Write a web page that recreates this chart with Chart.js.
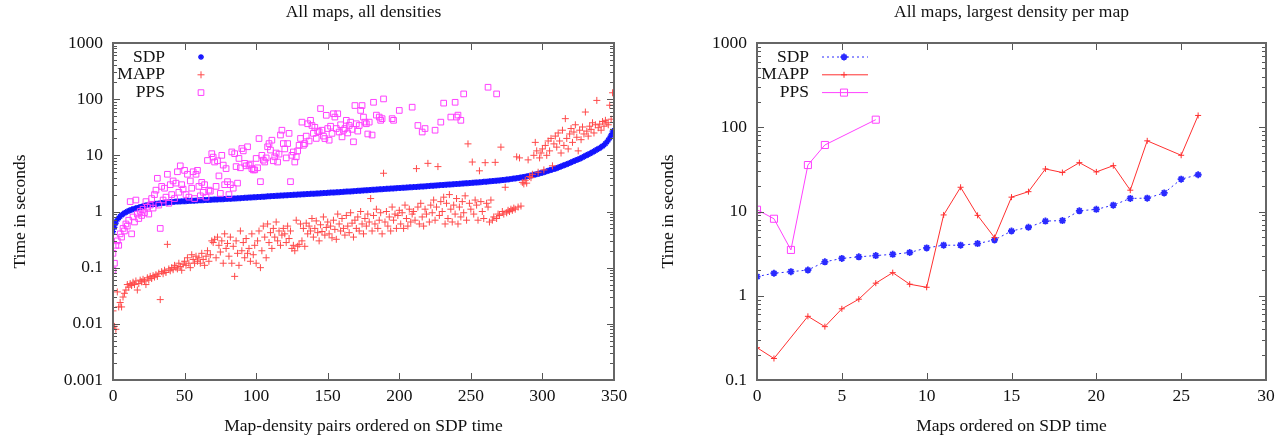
<!DOCTYPE html>
<html>
<head>
<meta charset="utf-8">
<script src="https://cdn.jsdelivr.net/npm/chart.js@4.4.1/dist/chart.umd.min.js"></script>
<style>
html, body { margin: 0; padding: 0; background: #fff; }
#wrap { position: relative; width: 1288px; height: 441px; }
#left { position: absolute; left: 0; top: 0; }
#right { position: absolute; left: 640px; top: 0; }
</style>
</head>
<body>
<div id="wrap">
  <canvas id="left" width="640" height="441"></canvas>
  <canvas id="right" width="648" height="441"></canvas>
</div>
<script>
// left panel: every map/density pair, index = position when sorted on SDP time
var sdpAll = [
  0.44,0.52,0.62,0.72,0.77,0.82,0.86,0.9,0.94,0.97,
  1.0,1.03,1.05,1.08,1.1,1.12,1.14,1.16,1.18,1.2,
  1.22,1.24,1.26,1.28,1.3,1.32,1.33,1.34,1.35,1.36,
  1.37,1.38,1.39,1.4,1.41,1.42,1.43,1.44,1.45,1.46,
  1.47,1.48,1.48,1.49,1.5,1.5,1.51,1.51,1.52,1.52,
  1.53,1.53,1.54,1.54,1.55,1.55,1.56,1.56,1.57,1.57,
  1.58,1.58,1.59,1.59,1.6,1.6,1.61,1.61,1.62,1.62,
  1.63,1.63,1.64,1.64,1.65,1.65,1.66,1.66,1.67,1.67,
  1.68,1.68,1.69,1.69,1.7,1.71,1.71,1.72,1.72,1.73,
  1.74,1.74,1.75,1.76,1.76,1.77,1.78,1.78,1.79,1.8,
  1.8,1.81,1.82,1.82,1.83,1.84,1.84,1.85,1.86,1.86,
  1.87,1.88,1.88,1.89,1.9,1.9,1.91,1.92,1.92,1.93,
  1.94,1.94,1.95,1.96,1.96,1.97,1.98,1.98,1.99,2.0,
  2.0,2.01,2.02,2.02,2.03,2.04,2.04,2.05,2.06,2.07,
  2.07,2.08,2.09,2.1,2.1,2.11,2.12,2.13,2.13,2.14,
  2.15,2.16,2.17,2.17,2.18,2.19,2.2,2.21,2.21,2.22,
  2.23,2.24,2.25,2.26,2.27,2.27,2.28,2.29,2.3,2.31,
  2.32,2.33,2.34,2.35,2.36,2.37,2.38,2.39,2.4,2.41,
  2.42,2.43,2.44,2.45,2.46,2.47,2.48,2.49,2.5,2.51,
  2.52,2.53,2.54,2.55,2.56,2.57,2.58,2.59,2.6,2.61,
  2.62,2.63,2.64,2.65,2.66,2.67,2.68,2.69,2.7,2.71,
  2.72,2.73,2.74,2.75,2.77,2.78,2.79,2.8,2.81,2.82,
  2.84,2.85,2.86,2.87,2.88,2.9,2.91,2.92,2.93,2.95,
  2.96,2.97,2.98,3.0,3.01,3.02,3.04,3.05,3.06,3.08,
  3.09,3.1,3.12,3.13,3.14,3.16,3.17,3.19,3.2,3.21,
  3.23,3.24,3.26,3.27,3.29,3.3,3.32,3.33,3.35,3.37,
  3.38,3.4,3.42,3.44,3.46,3.48,3.5,3.52,3.54,3.56,
  3.58,3.6,3.63,3.65,3.68,3.7,3.73,3.76,3.79,3.82,
  3.85,3.88,3.92,3.96,4.0,4.04,4.08,4.12,4.17,4.22,
  4.27,4.32,4.38,4.44,4.5,4.56,4.62,4.69,4.76,4.84,
  4.92,5.0,5.1,5.2,5.3,5.4,5.5,5.6,5.7,5.8,
  5.9,6.05,6.2,6.35,6.5,6.65,6.8,6.95,7.1,7.3,
  7.5,7.7,7.9,8.1,8.3,8.5,8.7,8.9,9.2,9.5,
  9.8,10.1,10.4,10.7,11,11.4,11.8,12.2,12.6,13,
  13.5,14,14.6,15.3,16.2,17.3,18.7,20.5,23,27
];

var mappAll = [
  0.017,0.009,0.008,0.037,0.02,0.024,0.02,0.03,0.035,0.04,
  0.05,0.045,0.052,0.048,0.055,0.05,0.058,0.04,0.052,0.06,
  0.056,0.062,0.058,0.05,0.066,0.06,0.07,0.064,0.072,0.068,
  0.075,0.07,0.08,0.027,0.085,0.078,0.09,0.082,0.26,0.095,
  0.088,0.1,0.092,0.11,0.1,0.095,0.12,0.105,0.09,0.115,
  0.13,0.11,0.15,0.12,0.1,0.17,0.14,0.12,0.16,0.13,
  0.15,0.12,0.18,0.14,0.11,0.16,0.2,0.13,0.17,0.3,
  0.28,0.32,0.15,0.35,0.25,0.19,0.3,0.12,0.4,0.22,
  0.27,0.16,0.35,0.12,0.24,0.07,0.3,0.18,0.11,0.45,
  0.2,0.28,0.15,0.33,0.18,0.22,0.13,0.4,0.17,0.25,
  0.12,0.3,0.45,0.1,0.2,0.55,0.35,0.15,0.6,0.28,
  0.42,0.22,0.5,0.35,0.65,0.3,0.45,0.25,0.38,0.5,
  0.4,0.28,0.55,0.33,0.45,0.22,0.25,0.2,0.7,0.24,
  0.26,0.6,0.3,0.5,0.24,0.62,0.4,0.55,0.45,0.75,
  0.35,0.5,0.68,0.42,0.3,0.58,0.44,0.8,0.38,0.52,
  0.65,0.4,0.55,0.34,0.7,0.48,0.32,0.9,0.6,0.45,
  0.75,0.5,0.38,0.85,0.55,0.42,0.95,0.62,0.35,0.7,
  0.5,0.8,0.45,1.0,0.6,0.4,0.75,0.55,0.9,0.65,
  1.7,0.45,0.85,0.6,1.1,0.5,0.7,0.95,0.4,4.8,
  0.65,1.0,0.55,0.8,0.45,1.2,0.7,0.9,0.5,0.85,
  1.05,0.6,0.95,0.5,1.3,0.75,0.55,1.1,0.65,0.9,
  1.0,0.7,5.8,1.2,0.6,1.4,0.8,0.55,1.1,0.9,
  7.2,0.65,1.3,0.95,1.6,0.7,1.2,6.3,0.85,1.5,
  1.0,1.8,0.6,1.4,0.75,2.0,1.1,0.65,1.3,0.9,
  1.7,0.6,1.2,0.8,1.5,0.95,1.9,0.7,16,1.4,
  1.1,7.6,0.9,1.6,1.3,0.7,5.3,1.5,1.0,0.75,
  7.4,1.4,1.2,0.65,1.6,0.7,0.8,7.5,0.75,0.9,
  0.85,14,1.0,0.9,2.7,0.95,1.05,1.0,1.1,1.05,
  1.15,1.1,9.4,1.2,9.0,1.25,3.3,3.1,3.6,3.2,
  8.3,4.2,4.0,4.6,10,17,12,5.0,9,11,
  13,5.5,15,10,18,12,20,6.5,16,22,
  14,25,18,11,28,15,45,20,13,24,
  30,17,26,35,21,12,28,19,32,24,
  59,27,22,33,29,38,25,35,95,31,
  36,28,40,33,42,38,35,78,44,130
];

// PPS only finished on part of the pairs
var ppsAllX = [
  0,0,1,2,3,4,5,6,7,8,9,10,11,12,13,14,15,16,17,18,19,20,21,22,23,24,25,26,27,28,29,
  30,31,32,33,34,35,36,37,38,39,40,41,42,43,44,45,46,47,48,49,50,51,52,53,54,55,56,57,58,59,
  60,61,62,63,64,65,66,67,68,69,70,71,72,73,74,75,76,77,78,79,80,81,82,83,84,85,86,87,88,89,
  90,91,92,93,94,95,96,97,98,99,100,101,102,103,104,105,106,107,108,109,110,111,112,113,114,115,116,117,118,119,
  120,121,122,123,124,125,126,127,128,129,130,131,132,133,134,135,136,137,138,139,140,141,142,143,144,145,146,147,148,149,
  150,151,152,153,154,155,156,157,158,159,160,161,162,163,164,165,166,167,168,169,170,171,172,173,174,175,176,177,178,179,
  181,182,184,186,187,188,189,195,196,200,209,213,216,218,225,229,231,236,239,240,241,243,245,262,268
];
var ppsAllY = [
  0.18,0.09,0.12,0.25,0.3,0.25,0.4,0.35,0.5,0.45,0.6,0.55,0.7,1.5,0.4,0.8,0.65,1.6,0.9,0.75,1.0,0.85,1.1,0.95,1.5,1.2,0.9,1.3,1.7,1.15,2.0,
  2.4,3.9,1.3,0.5,2.8,1.6,2.6,1.8,4.6,1.4,3.0,2.0,3.5,1.7,3.2,5.1,2.2,6.5,3.0,2.5,5.4,2.0,4.6,1.8,3.5,2.6,5.1,1.7,4.6,5.4,
  2.8,1.9,3.3,2.2,3.0,1.8,8.1,2.4,2.3,10.7,9.3,7.6,2.8,8.0,4.3,2.1,10,6.7,3.0,5.8,3.4,2.0,3.0,11.5,2.6,10.7,6.3,3.2,8.8,6.0,
  13.2,12,7.2,6.5,14.2,6.7,7.0,5.8,5.5,5.5,8.8,6.0,19.9,3.4,10,8.2,7.6,9.0,14.2,16.2,12.4,18.6,8.0,9.4,11,7.6,10.5,23,28,16.2,
  13,9.0,16.2,24.6,3.4,10,11.5,7.6,9.4,12,15.1,20,39,15.1,16.2,22,36.5,18,42,34,24.6,31.6,20,27,26.3,68,28,22,19.9,51.6,
  30,18.6,33,24.6,55,48,30,55,26,35,21.3,28,30,42,25,34,39,29,17.4,77,36.5,27,34,63,77,48,39,36.5,24,39,
  23,88,52,48,42,45,101,45,42,63,72,34,26,30,28,39,85,48,88,48,52,42,124,163,124
];

// right panel: largest density of each map
var mapIndex = [0,1,2,3,4,5,6,7,8,9,10,11,12,13,14,15,16,17,18,19,20,21,22,23,24,25,26];
var sdpLargest = [1.69,1.85,1.93,2.02,2.53,2.77,2.9,3.0,3.1,3.26,3.7,3.98,3.98,4.16,4.6,5.87,6.5,7.7,7.8,10.2,10.6,11.9,14.3,14.4,16.6,24.2,27.3];
var mappLargest = [0.242,0.18,null,0.57,0.43,0.7,0.91,1.41,1.88,1.37,1.26,9.1,19.4,9.0,4.9,14.8,17.2,32,29,38,29.5,35,17.9,69,null,46.5,138];
var ppsLargest = [10.5,8.2,3.5,35.6,61.6,null,null,123];

var leftXTicks = [0,50,100,150,200,250,300,350];
var leftYTicks = [0.001,0.01,0.1,1,10,100,1000];
var rightXTicks = [0,5,10,15,20,25,30];
var rightYTicks = [0.1,1,10,100,1000];

var serif = '"Liberation Serif", "Times New Roman", serif';
var fs = 17.5;
var textCol = '#111';

function mark(ctx, style, x, y, r) {
  ctx.beginPath();
  if (style === 'rect') {
    var s = r * Math.SQRT1_2;
    ctx.rect(x - s, y - s, 2 * s, 2 * s);
  } else {
    ctx.moveTo(x, y - r); ctx.lineTo(x, y + r);
    ctx.moveTo(x - r, y); ctx.lineTo(x + r, y);
    if (style === 'star') {
      var d = r * Math.SQRT1_2;
      ctx.moveTo(x - d, y - d); ctx.lineTo(x + d, y + d);
      ctx.moveTo(x - d, y + d); ctx.lineTo(x + d, y - d);
    }
  }
  ctx.stroke();
}

// gnuplot style box: inward ticks on all four sides, minor ticks on the log axis
var frameTicks = {
  id: 'frameTicks',
  afterDatasetsDraw(chart, args, opts) {
    var ctx = chart.ctx, a = chart.chartArea;
    var xs = chart.scales.x, ys = chart.scales.y;
    ctx.save();
    ctx.strokeStyle = '#555';
    ctx.lineWidth = 1;
    ctx.beginPath();
    opts.xTicks.forEach(function (v) {
      var px = Math.round(xs.getPixelForValue(v)) + 0.5;
      ctx.moveTo(px, a.bottom); ctx.lineTo(px, a.bottom - 7);
      ctx.moveTo(px, a.top); ctx.lineTo(px, a.top + 7);
    });
    opts.yTicks.forEach(function (v, i) {
      var py = Math.round(ys.getPixelForValue(v)) + 0.5;
      ctx.moveTo(a.left, py); ctx.lineTo(a.left + 7, py);
      ctx.moveTo(a.right, py); ctx.lineTo(a.right - 7, py);
      if (i < opts.yTicks.length - 1) {
        for (var m = 2; m < 10; m++) {
          var pm = Math.round(ys.getPixelForValue(v * m)) + 0.5;
          ctx.moveTo(a.left, pm); ctx.lineTo(a.left + 4, pm);
          ctx.moveTo(a.right, pm); ctx.lineTo(a.right - 4, pm);
        }
      }
    });
    ctx.stroke();
    ctx.lineWidth = 2;
    ctx.strokeStyle = '#666';
    ctx.strokeRect(a.left, a.top, a.right - a.left, a.bottom - a.top);
    ctx.restore();
  }
};

// key inside the plot, text first then the sample
var keyBox = {
  id: 'keyBox',
  afterDraw(chart, args, opts) {
    var ctx = chart.ctx, a = chart.chartArea;
    ctx.save();
    ctx.font = fs + 'px ' + serif;
    ctx.textAlign = 'right';
    ctx.textBaseline = 'middle';
    chart.data.datasets.forEach(function (ds, i) {
      var ty = a.top + opts.top + i * opts.step;
      ctx.fillStyle = textCol;
      ctx.fillText(ds.label, a.left + opts.textRight, ty);
      ctx.strokeStyle = ds.borderColor;
      if (opts.lines) {
        ctx.lineWidth = ds.borderWidth;
        ctx.setLineDash(ds.borderDash || []);
        ctx.beginPath();
        ctx.moveTo(a.left + opts.lineFrom, ty);
        ctx.lineTo(a.left + opts.lineTo, ty);
        ctx.stroke();
        ctx.setLineDash([]);
      }
      ctx.lineWidth = ds.pointBorderWidth;
      mark(ctx, ds.pointStyle, a.left + opts.markX, ty, ds.pointRadius);
    });
    ctx.restore();
  }
};

function panelOptions(o) {
  return {
    responsive: false,
    animation: false,
    layout: { padding: { left: 0, right: o.rightPad, top: 0, bottom: 0 } },
    plugins: {
      legend: { display: false },
      tooltip: { enabled: false },
      title: {
        display: true,
        text: o.title,
        fullSize: false,
        color: textCol,
        font: { family: serif, size: fs, weight: 'normal' },
        padding: { top: 2, bottom: 20 }
      },
      frameTicks: { xTicks: o.xTicks, yTicks: o.yTicks },
      keyBox: o.key
    },
    scales: {
      x: {
        type: 'linear',
        min: o.xTicks[0],
        max: o.xTicks[o.xTicks.length - 1],
        grid: { display: false, drawTicks: false },
        border: { display: false },
        afterFit: function (s) { s.height = 61; },
        afterBuildTicks: function (s) { s.ticks = o.xTicks.map(function (v) { return { value: v }; }); },
        ticks: { color: textCol, padding: 6, maxRotation: 0, autoSkip: false, font: { family: serif, size: fs },
                 callback: function (v) { return String(v); } },
        title: { display: true, text: o.xTitle, color: textCol, font: { family: serif, size: fs }, padding: { top: 0, bottom: 4 } }
      },
      y: {
        type: 'logarithmic',
        min: o.yTicks[0],
        max: o.yTicks[o.yTicks.length - 1],
        grid: { display: false, drawTicks: false },
        border: { display: false },
        afterFit: function (s) { s.width = o.yWidth; },
        afterBuildTicks: function (s) { s.ticks = o.yTicks.map(function (v) { return { value: v }; }); },
        ticks: { color: textCol, padding: 10, autoSkip: false, font: { family: serif, size: fs },
                 callback: function (v) { return String(v); } },
        title: { display: true, text: 'Time in seconds', color: textCol, font: { family: serif, size: fs }, padding: { top: o.yTitlePad, bottom: 0 } }
      }
    }
  };
}

new Chart(document.getElementById('left'), {
  type: 'scatter',
  data: {
    datasets: [
      {
        label: 'SDP',
        data: sdpAll.map(function (v, i) { return { x: i, y: v }; }),
        pointStyle: 'star', pointRadius: 3, pointBorderWidth: 1.3,
        borderColor: '#1414ff', pointBorderColor: '#1414ff', backgroundColor: '#1414ff',
        order: 3
      },
      {
        label: 'MAPP',
        data: mappAll.map(function (v, i) { return { x: i, y: v }; }),
        pointStyle: 'cross', pointRadius: 3.5, pointBorderWidth: 1,
        borderColor: '#ff4a4a', pointBorderColor: '#ff4a4a', backgroundColor: '#ff4a4a',
        order: 2
      },
      {
        label: 'PPS',
        data: ppsAllX.map(function (x, i) { return { x: x, y: ppsAllY[i] }; }),
        pointStyle: 'rect', pointRadius: 4, pointBorderWidth: 1,
        borderColor: '#ff40ff', pointBorderColor: '#ff40ff', backgroundColor: 'rgba(0,0,0,0)',
        pointBackgroundColor: 'rgba(0,0,0,0)',
        order: 1
      }
    ]
  },
  options: panelOptions({
    title: 'All maps, all densities',
    xTitle: 'Map-density pairs ordered on SDP time',
    xTicks: leftXTicks, yTicks: leftYTicks,
    yWidth: 113, rightPad: 26, yTitlePad: 10,
    key: { top: 14, step: 17.8, textRight: 52, markX: 88, lines: false }
  }),
  plugins: [frameTicks, keyBox]
});

new Chart(document.getElementById('right'), {
  type: 'scatter',
  data: {
    datasets: [
      {
        label: 'SDP',
        data: mapIndex.map(function (x, i) { return { x: x, y: sdpLargest[i] }; }),
        showLine: true, borderWidth: 1, borderDash: [2, 3],
        pointStyle: 'star', pointRadius: 3.5, pointBorderWidth: 1.8,
        borderColor: '#2a2aff', pointBorderColor: '#2a2aff', backgroundColor: '#2a2aff',
        order: 3
      },
      {
        label: 'MAPP',
        data: mapIndex.map(function (x, i) { return { x: x, y: mappLargest[i] }; }),
        showLine: true, spanGaps: true, borderWidth: 1,
        pointStyle: 'cross', pointRadius: 3, pointBorderWidth: 1,
        borderColor: '#ff3030', pointBorderColor: '#ff3030', backgroundColor: '#ff3030',
        order: 2
      },
      {
        label: 'PPS',
        data: ppsLargest.map(function (v, i) { return { x: mapIndex[i], y: v }; }),
        showLine: true, spanGaps: true, borderWidth: 1,
        pointStyle: 'rect', pointRadius: 5, pointBorderWidth: 1,
        borderColor: '#ff40ff', pointBorderColor: '#ff40ff', backgroundColor: 'rgba(0,0,0,0)',
        pointBackgroundColor: 'rgba(0,0,0,0)',
        order: 1
      }
    ]
  },
  options: panelOptions({
    title: 'All maps, largest density per map',
    xTitle: 'Maps ordered on SDP time',
    xTicks: rightXTicks, yTicks: rightYTicks,
    yWidth: 117, rightPad: 22, yTitlePad: 18,
    key: { top: 14, step: 17.8, textRight: 52, markX: 87, lines: true, lineFrom: 65, lineTo: 111 }
  }),
  plugins: [frameTicks, keyBox]
});
</script>
</body>
</html>
